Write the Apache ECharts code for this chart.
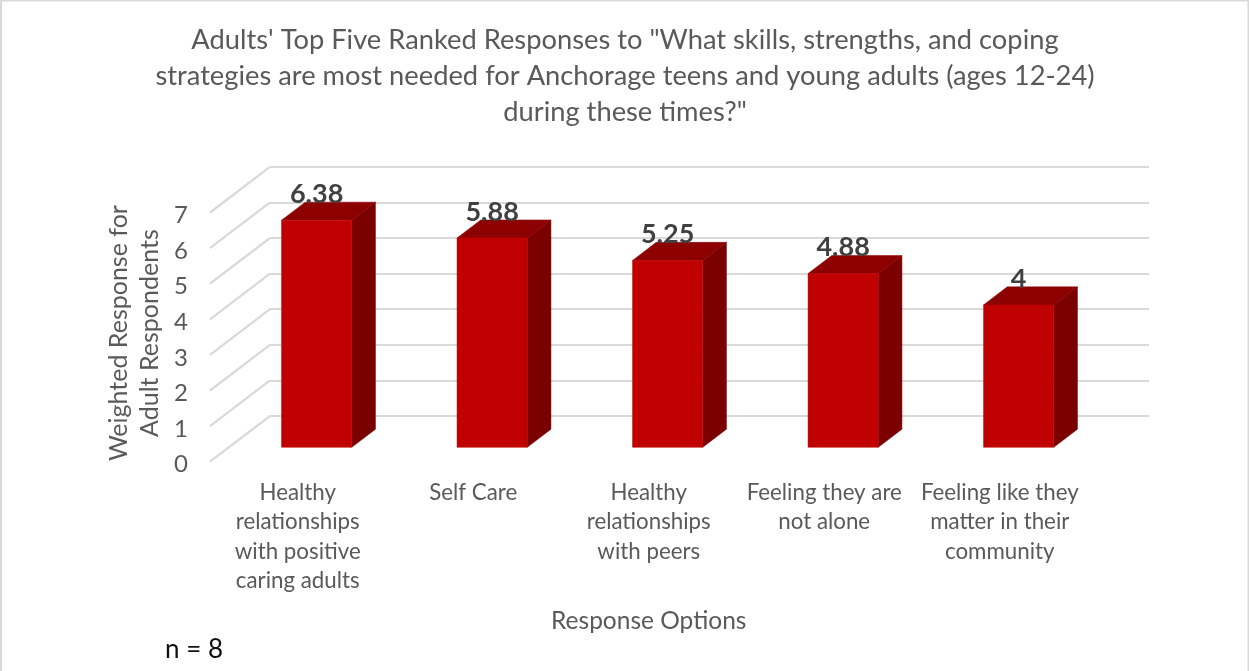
<!DOCTYPE html>
<html>
<head>
<meta charset="utf-8">
<style>html,body{margin:0;padding:0;background:#fff}#chart{width:1249px;height:671px}</style>
<script src="https://cdn.jsdelivr.net/npm/echarts@6/dist/echarts.min.js"></script>
</head>
<body>
<div id="chart"></div>
<script>
const chartTitle = 'Adults\' Top Five Ranked Responses to "What skills, strengths, and coping\nstrategies are most needed for Anchorage teens and young adults (ages 12-24)\nduring these times?"';
const categories = [
  'Healthy\nrelationships\nwith positive\ncaring adults',
  'Self Care',
  'Healthy\nrelationships\nwith peers',
  'Feeling they are\nnot alone',
  'Feeling like they\nmatter in their\ncommunity'
];
const values = [6.38, 5.88, 5.25, 4.88, 4];
const valueTicks = [0, 1, 2, 3, 4, 5, 6, 7];
const xAxisName = 'Response Options';
const yAxisName = 'Weighted Response for\nAdult Respondents';
const sampleNote = 'n = 8';

const FONT = 'Lato';
const TEXT = '#595959';
const GRID_LINE = '#d9d9d9';

// Oblique projection of the 3D chart box, in pixels per full depth of the floor.
const WALL_DX = 60, WALL_DY = -45.7;
// Where the bar's front face and its rear sit inside that depth.
const BAR_FRONT = 0.315, BAR_DEPTH = 0.395;

const chart = echarts.init(document.getElementById('chart'));

function renderBar(params, api) {
  const cat = api.value(0), val = api.value(1);
  const top = api.coord([cat, val]);
  const base = api.coord([cat, 0]);
  const w = api.size([1, 0])[0] * 0.4;
  const fx = WALL_DX * BAR_FRONT, fy = WALL_DY * BAR_FRONT;
  const dx = WALL_DX * BAR_DEPTH, dy = WALL_DY * BAR_DEPTH;
  const l = top[0] - w / 2 + fx, r = l + w;
  const t = top[1] + fy, b = base[1] + fy;
  const poly = (points, fill) => ({
    type: 'polygon',
    shape: { points },
    style: { fill, stroke: fill, lineWidth: 0.5 }
  });
  return {
    type: 'group',
    children: [
      poly([[r, t], [r + dx, t + dy], [r + dx, b + dy], [r, b]], '#7b0000'),
      poly([[l, t], [l + dx, t + dy], [r + dx, t + dy], [r, t]], '#8c0000'),
      poly([[l, t], [r, t], [r, b], [l, b]], '#c00000'),
      {
        type: 'text',
        z2: 10,
        style: {
          text: String(val),
          x: (l + r) / 2,
          y: t + dy - 8,
          align: 'center',
          verticalAlign: 'middle',
          font: 'bold 27px ' + FONT,
          fill: '#404040'
        }
      }
    ]
  };
}

// Floor lines running from each value on the front edge back to the wall.
function renderDepthLine(params, api) {
  const p = api.coord([0, api.value(0)]);
  const x = p[0] - api.size([1, 0])[0] / 2;
  return {
    type: 'line',
    shape: { x1: x, y1: p[1], x2: x + WALL_DX, y2: p[1] + WALL_DY },
    style: { stroke: GRID_LINE, lineWidth: 2.2 }
  };
}

chart.setOption({
  backgroundColor: '#fff',
  animation: false,
  title: {
    text: chartTitle,
    left: 620,
    top: 17,
    textAlign: 'center',
    textStyle: { fontFamily: FONT, fontSize: 27.3, fontWeight: 'normal', color: TEXT, lineHeight: 36 }
  },
  grid: [
    { left: 210, width: 877.5, top: 212.5, height: 249.2 },
    { left: 270, width: 879, top: 166.8, height: 249.2 }
  ],
  xAxis: [
    {
      type: 'category',
      gridIndex: 0,
      data: categories,
      axisLine: { show: false },
      axisTick: { show: false },
      axisLabel: {
        interval: 0,
        margin: 16,
        verticalAlign: 'top',
        fontFamily: FONT,
        fontSize: 22.3,
        lineHeight: 29.5,
        color: TEXT
      },
      name: xAxisName,
      nameLocation: 'middle',
      nameGap: 147,
      nameMoveOverlap: false,
      nameTextStyle: { fontFamily: FONT, fontSize: 24.5, color: TEXT }
    },
    { type: 'category', gridIndex: 1, data: categories, show: false }
  ],
  yAxis: [
    {
      type: 'value',
      gridIndex: 0,
      min: valueTicks[0],
      max: valueTicks[valueTicks.length - 1],
      interval: 1,
      axisLine: { show: false },
      axisTick: { show: false },
      splitLine: { show: false },
      axisLabel: { margin: 22, verticalAlign: 'top', lineHeight: 6, fontFamily: FONT, fontSize: 24, color: TEXT },
      name: yAxisName,
      nameLocation: 'middle',
      nameRotate: 90,
      nameGap: 45,
      nameMoveOverlap: false,
      nameTextStyle: { fontFamily: FONT, fontSize: 25, lineHeight: 31, color: TEXT, padding: [0, 0, 0, 8] }
    },
    {
      type: 'value',
      gridIndex: 1,
      min: valueTicks[0],
      max: valueTicks[valueTicks.length - 1],
      interval: 1,
      axisLine: { show: false },
      axisTick: { show: false },
      axisLabel: { show: false },
      splitLine: { show: true, lineStyle: { color: GRID_LINE, width: 2 } }
    }
  ],
  series: [
    {
      type: 'custom',
      xAxisIndex: 0,
      yAxisIndex: 0,
      renderItem: renderDepthLine,
      encode: { y: 0 },
      data: valueTicks.map(v => [v]),
      silent: true,
      z: 1
    },
    {
      type: 'custom',
      xAxisIndex: 0,
      yAxisIndex: 0,
      renderItem: renderBar,
      encode: { x: 0, y: 1 },
      data: values.map((v, i) => [i, v]),
      z: 5
    }
  ],
  graphic: [
    {
      // Frame is open at the bottom: the lower edge sits below the canvas.
      type: 'rect',
      shape: { x: 1, y: 0.5, width: 1247.5, height: 680 },
      style: { fill: 'none', stroke: '#d9d9d9', lineWidth: 2 },
      silent: true
    },
    {
      type: 'text',
      style: { text: sampleNote, x: 165, y: 650, verticalAlign: 'middle', font: '26px ' + FONT, fill: '#111' }
    }
  ]
});
</script>
</body>
</html>
